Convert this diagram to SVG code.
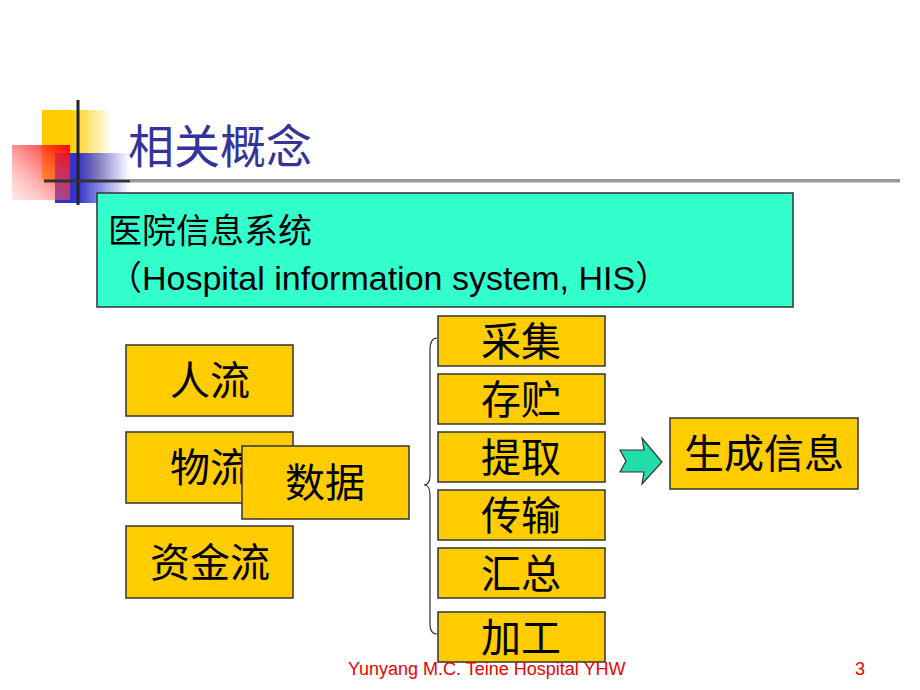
<svg xmlns="http://www.w3.org/2000/svg" width="920" height="690" viewBox="0 0 920 690">
<defs>
<linearGradient id="gy" x1="0" x2="1"><stop offset="0.4" stop-color="#ffcc00"/><stop offset="1" stop-color="#ffcc00" stop-opacity="0"/></linearGradient>
<linearGradient id="gb" x1="0" x2="1"><stop offset="0.3" stop-color="#3333cc"/><stop offset="1" stop-color="#3333cc" stop-opacity="0"/></linearGradient>
<linearGradient id="gr" x1="1" y1="0" x2="0" y2="1"><stop offset="0" stop-color="#ff0000"/><stop offset="1" stop-color="#ff9999" stop-opacity="0.2"/></linearGradient>
<style>
.y{fill:#ffcc00;stroke:#333;stroke-width:1.5}
.t{font-family:"Noto Sans CJK SC","Liberation Serif",serif;font-size:40px;fill:#000;text-anchor:middle}
</style>
</defs>
<rect x="42" y="110" width="70" height="70" fill="url(#gy)"/>
<rect x="55" y="153" width="75" height="50" fill="url(#gb)"/>
<rect x="12" y="145" width="58" height="55" fill="url(#gr)"/>
<line x1="78" y1="100" x2="78" y2="205" stroke="#222" stroke-width="3"/>
<line x1="44" y1="181" x2="900" y2="181" stroke="#333" stroke-width="3" stroke-dasharray="none"/>
<rect x="130" y="180" width="770" height="3" fill="#fff" opacity="0.5"/>
<text x="128" y="163" font-family="Noto Sans CJK SC,sans-serif" font-size="46" fill="#333399">相关概念</text>
<g id="his"><rect x="97" y="193" width="696" height="114" fill="#33ffcc" stroke="#333" stroke-width="1.5"/>
<text x="108" y="243" font-family="Noto Sans CJK SC,sans-serif" font-size="34">医院信息系统</text>
<text x="108" y="290" font-family="Liberation Sans,Noto Sans CJK SC,sans-serif" font-size="34">（Hospital information system, HIS）</text></g>
<g id="renliu"><rect class="y" x="126" y="345" width="167" height="71"/><text class="t" x="210" y="395">人流</text></g>
<g id="wuliu"><rect class="y" x="126" y="432" width="167" height="71"/><text class="t" x="210" y="482">物流</text></g>
<g id="zijinliu"><rect class="y" x="126" y="526" width="167" height="72"/><text class="t" x="210" y="577">资金流</text></g>
<g id="shuju"><rect class="y" x="242" y="446" width="167" height="73"/><text class="t" x="325" y="497">数据</text></g>
<g id="caiji"><rect class="y" x="438" y="316" width="167" height="50"/><text class="t" x="521" y="356">采集</text></g>
<g id="cunzhu"><rect class="y" x="438" y="374" width="167" height="50"/><text class="t" x="521" y="414">存贮</text></g>
<g id="tiqu"><rect class="y" x="438" y="432" width="167" height="50"/><text class="t" x="521" y="472">提取</text></g>
<g id="chuanshu"><rect class="y" x="438" y="490" width="167" height="50"/><text class="t" x="521" y="530">传输</text></g>
<g id="huizong"><rect class="y" x="438" y="548" width="167" height="50"/><text class="t" x="521" y="588">汇总</text></g>
<g id="jiagong"><rect class="y" x="438" y="612" width="167" height="50"/><text class="t" x="521" y="652">加工</text></g>
<g id="shengcheng"><rect class="y" x="670" y="418" width="188" height="71"/><text class="t" x="764" y="468">生成信息</text></g>
<g id="connectors">
<path d="M437,338 Q430,338 430,350 L430,475 Q430,485 424,485 Q430,485 430,495 L430,624 Q430,634 437,634" fill="none" stroke="#333" stroke-width="1.2"/>
<path d="M620,450 L644,450 L642,438 L662,462 L642,484 L644,472 L620,472 L626,461 Z" fill="#22ddaa" stroke="#333" stroke-width="1.2"/>
</g>
<text x="348" y="675" font-family="Liberation Sans,sans-serif" font-size="18" fill="#ee0000">Yunyang M.C. Teine Hospital YHW</text>
<text x="855" y="675" font-family="Liberation Sans,sans-serif" font-size="18" fill="#ee0000">3</text>
</svg>
